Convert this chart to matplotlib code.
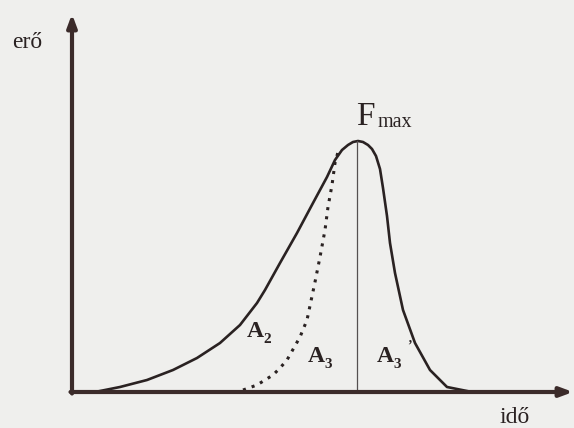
import matplotlib
matplotlib.use("Agg")
import matplotlib.pyplot as plt

# Solid force-time curve (time, force)
solid_t = [28, 48, 75, 101, 125, 148, 168, 185, 193, 208, 225, 241, 255, 263, 270, 276,
           281, 286, 291, 296, 300, 304, 308, 311, 315, 318, 323, 331, 343, 358, 375, 395]
solid_f = [1, 5, 12, 22, 34, 49, 67, 89, 102, 129, 159, 189, 215, 232, 242, 247,
           250, 251, 250, 247, 243, 236, 223, 204, 176, 149, 119, 82, 49, 22, 5, 1]

# Dotted curve (time, force)
dash_t = [171, 185, 201, 208, 215, 228, 235, 243, 248, 253, 256, 260, 263, 266]
dash_f = [2, 7, 17, 24, 32, 55, 72, 110, 135, 162, 185, 207, 229, 240]

peak_t = 285
peak_f = 251

axis_color = "#3b2b2a"
curve_color = "#2a2222"
text_color = "#2a2222"

fig = plt.figure(figsize=(5.74, 4.28), dpi=100)
fig.patch.set_facecolor("#efefed")
ax = fig.add_axes([0, 0, 1, 1])
ax.set_facecolor("#efefed")
ax.set_xlim(-72, 502)
ax.set_ylim(-36, 392)
ax.axis("off")

# axes with arrows
ax.annotate("", xy=(501, 0), xytext=(-1.5, 0),
            arrowprops=dict(arrowstyle="-|>,head_length=0.75,head_width=0.28",
                            color=axis_color, lw=3, shrinkA=0, shrinkB=0))
ax.annotate("", xy=(0, 378), xytext=(0, -1.5),
            arrowprops=dict(arrowstyle="-|>,head_length=0.75,head_width=0.28",
                            color=axis_color, lw=3, shrinkA=0, shrinkB=0))

ax.plot(solid_t, solid_f, color=curve_color, lw=1.9, solid_joinstyle="round")
ax.plot(dash_t, dash_f, color=curve_color, lw=2.2, linestyle=(0, (1.0, 2.0)))
ax.plot([peak_t, peak_t], [0, peak_f], color="#555050", lw=0.9)

serif = ["Liberation Serif", "DejaVu Serif"]
ax.text(-60, 344, "erő", fontsize=17, family=serif, color=text_color,
        va="baseline", ha="left")
ax.text(428, -31, "idő", fontsize=17, family=serif, color=text_color,
        va="baseline", ha="left")

ax.text(284, 267, "F", fontsize=24, family=serif, color=text_color,
        va="baseline", ha="left")
ax.text(306, 265, "max", fontsize=14.5, family=serif, color=text_color,
        va="baseline", ha="left")


def alabel(x, y, sub, prime=False):
    ax.text(x, y, "A", fontsize=17, family=serif, weight="bold", color=text_color,
            va="baseline", ha="left")
    ax.text(x + 16, y - 6, sub, fontsize=11, family=serif, weight="bold",
            color=text_color, va="baseline", ha="left")
    if prime:
        ax.text(x + 30, y + 12, "’", fontsize=10, family=serif, weight="bold",
                color=text_color, va="baseline", ha="left")


alabel(175, 55, "2")
alabel(236, 30, "3")
alabel(305, 30, "3", prime=True)

fig.savefig("out.png", dpi=100, facecolor=fig.get_facecolor())
